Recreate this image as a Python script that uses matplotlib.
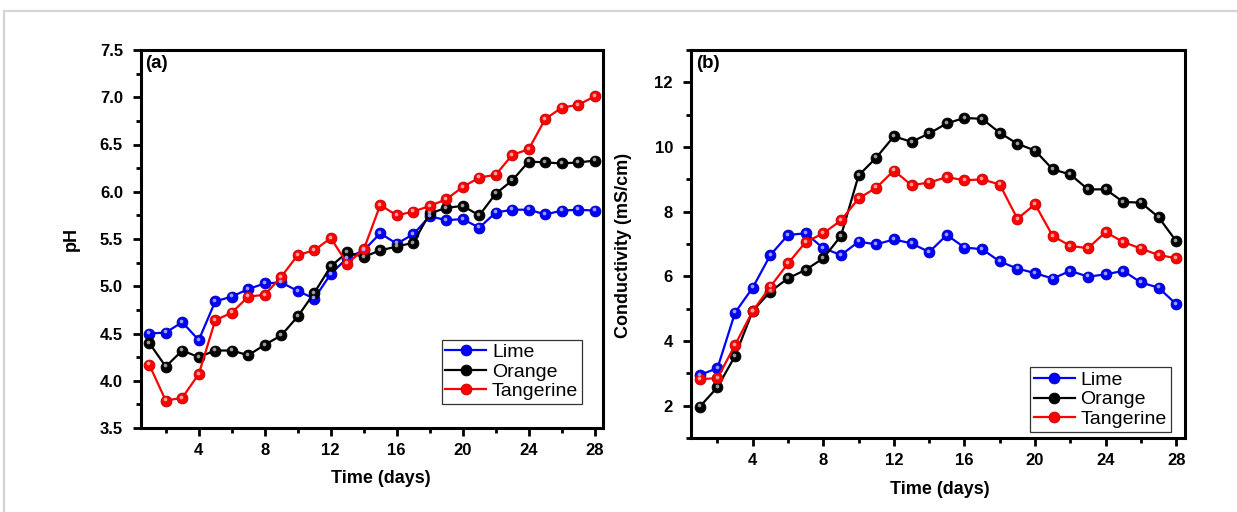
import numpy as np
import matplotlib
matplotlib.use("Agg")
import matplotlib.pyplot as plt
from matplotlib.ticker import MultipleLocator, FormatStrFormatter
from matplotlib.transforms import offset_copy
from matplotlib.patches import Rectangle

plt.rcParams['font.family'] = ['Liberation Sans', 'DejaVu Sans']

# data
days = list(range(1, 29))
names = ["Lime", "Orange", "Tangerine"]

ph_lime = [4.50, 4.51, 4.62, 4.43, 4.84, 4.89, 4.97, 5.03, 5.04, 4.95, 4.87, 5.13, 5.30, 5.38,
           5.56, 5.45, 5.55, 5.74, 5.70, 5.71, 5.62, 5.78, 5.81, 5.81, 5.76, 5.80, 5.81, 5.80]
ph_orange = [4.40, 4.15, 4.32, 4.25, 4.32, 4.32, 4.27, 4.38, 4.48, 4.68, 4.93, 5.21, 5.36, 5.31,
             5.38, 5.42, 5.46, 5.77, 5.83, 5.85, 5.75, 5.98, 6.12, 6.32, 6.31, 6.30, 6.31, 6.33]
ph_tang = [4.17, 3.79, 3.82, 4.07, 4.64, 4.72, 4.89, 4.91, 5.10, 5.33, 5.38, 5.51, 5.24, 5.39,
           5.86, 5.75, 5.79, 5.85, 5.92, 6.05, 6.15, 6.18, 6.39, 6.45, 6.77, 6.89, 6.92, 7.01]

cond_lime = [2.95, 3.16, 4.88, 5.65, 6.66, 7.28, 7.33, 6.87, 6.66, 7.07, 6.99, 7.14, 7.02, 6.75,
             7.28, 6.89, 6.84, 6.46, 6.24, 6.10, 5.93, 6.17, 5.99, 6.06, 6.17, 5.81, 5.65, 5.14]
cond_orange = [1.97, 2.57, 3.54, 4.93, 5.53, 5.94, 6.20, 6.56, 7.25, 9.12, 9.67, 10.33, 10.16, 10.42,
               10.73, 10.90, 10.87, 10.44, 10.10, 9.89, 9.31, 9.15, 8.69, 8.69, 8.30, 8.28, 7.83, 7.09]
cond_tang = [2.82, 2.85, 3.88, 4.93, 5.68, 6.40, 7.06, 7.33, 7.73, 8.41, 8.74, 9.27, 8.82, 8.90,
             9.07, 8.97, 9.00, 8.84, 7.78, 8.23, 7.25, 6.94, 6.87, 7.37, 7.06, 6.86, 6.66, 6.56]

colors = ["#0000ff", "#000000", "#ff0000"]
edges = ["#0000b0", "#000000", "#c00000"]
shine = ["#9a9aff", "#9a9a9a", "#ffa0a0"]

fig = plt.figure(figsize=(12.37, 5.12), dpi=100)
fig.set_facecolor("white")

# light grey page frame (top and left edges only visible)
fig.patches.append(Rectangle((4/1237, -0.2), 1.2, 1.2 - 11/512, transform=fig.transFigure,
                             fill=False, edgecolor="#d4d4d4", linewidth=1.6, clip_on=False))

ax1 = fig.add_axes([141/1237, 1 - 428/512, 462/1237, 378/512])
ax2 = fig.add_axes([691/1237, 1 - 438/512, 494/1237, 388/512])


def draw(ax, series):
    for vals, name, c, ec, sh in zip(series, names, colors, edges, shine):
        ax.plot(days, vals, color=c, lw=1.6, marker="o", ms=7.8, mfc=c, mec=ec, mew=0.6,
                label=name, zorder=3)
        tr = offset_copy(ax.transData, fig=fig, x=-0.6, y=0.9, units="points")
        ax.plot(days, vals, ls="none", marker="o", ms=2.7, mfc=sh, mec="none",
                transform=tr, zorder=4)


def style(ax):
    for s in ax.spines.values():
        s.set_linewidth(2.2)
    ax.set_xlim(0.5, 28.5)
    ax.xaxis.set_major_locator(MultipleLocator(4))
    ax.xaxis.set_minor_locator(MultipleLocator(2))
    ax.tick_params(which="major", direction="out", length=6, width=2, labelsize=12, pad=5)
    ax.tick_params(which="minor", direction="out", length=3.5, width=2)
    ax.tick_params(axis="y", which="major", pad=7)
    ax.tick_params(top=False, right=False, which="both")
    for lab in ax.get_xticklabels() + ax.get_yticklabels():
        lab.set_fontweight("bold")
    ax.set_xlabel("Time (days)", fontsize=13, fontweight="bold")


def legend(ax, anchor):
    leg = ax.legend(loc="lower right", bbox_to_anchor=anchor, borderaxespad=0, fontsize=14,
                    frameon=True, fancybox=False, edgecolor="#333333", framealpha=1,
                    handlelength=2.1, handletextpad=0.3, labelspacing=0.1, borderpad=0.2)
    leg.get_frame().set_linewidth(0.9)


draw(ax1, [ph_lime, ph_orange, ph_tang])
ax1.set_ylim(3.5, 7.5)
ax1.yaxis.set_major_locator(MultipleLocator(0.5))
ax1.yaxis.set_minor_locator(MultipleLocator(0.25))
ax1.yaxis.set_major_formatter(FormatStrFormatter("%.1f"))
style(ax1)
ax1.set_ylabel("pH", fontsize=13, fontweight="bold")
ax1.yaxis.set_label_coords(-0.132, 0.5)
ax1.xaxis.set_label_coords(0.52, -0.111)
ax1.text(0.01, 0.988, "(a)", transform=ax1.transAxes, fontsize=13.5, fontweight="bold",
         va="top", ha="left")
legend(ax1, (0.955, 0.063))

draw(ax2, [cond_lime, cond_orange, cond_tang])
ax2.set_ylim(1, 13)
ax2.yaxis.set_major_locator(MultipleLocator(2))
ax2.yaxis.set_minor_locator(MultipleLocator(1))
style(ax2)
ax2.set_ylabel("Conductivity (mS/cm)", fontsize=13, fontweight="bold")
ax2.yaxis.set_label_coords(-0.119, 0.497)
ax2.xaxis.set_label_coords(0.503, -0.111)
ax2.text(0.01, 0.988, "(b)", transform=ax2.transAxes, fontsize=13.5, fontweight="bold",
         va="top", ha="left")
legend(ax2, (0.971, 0.016))

fig.savefig("out.png", dpi=100, facecolor="white")
